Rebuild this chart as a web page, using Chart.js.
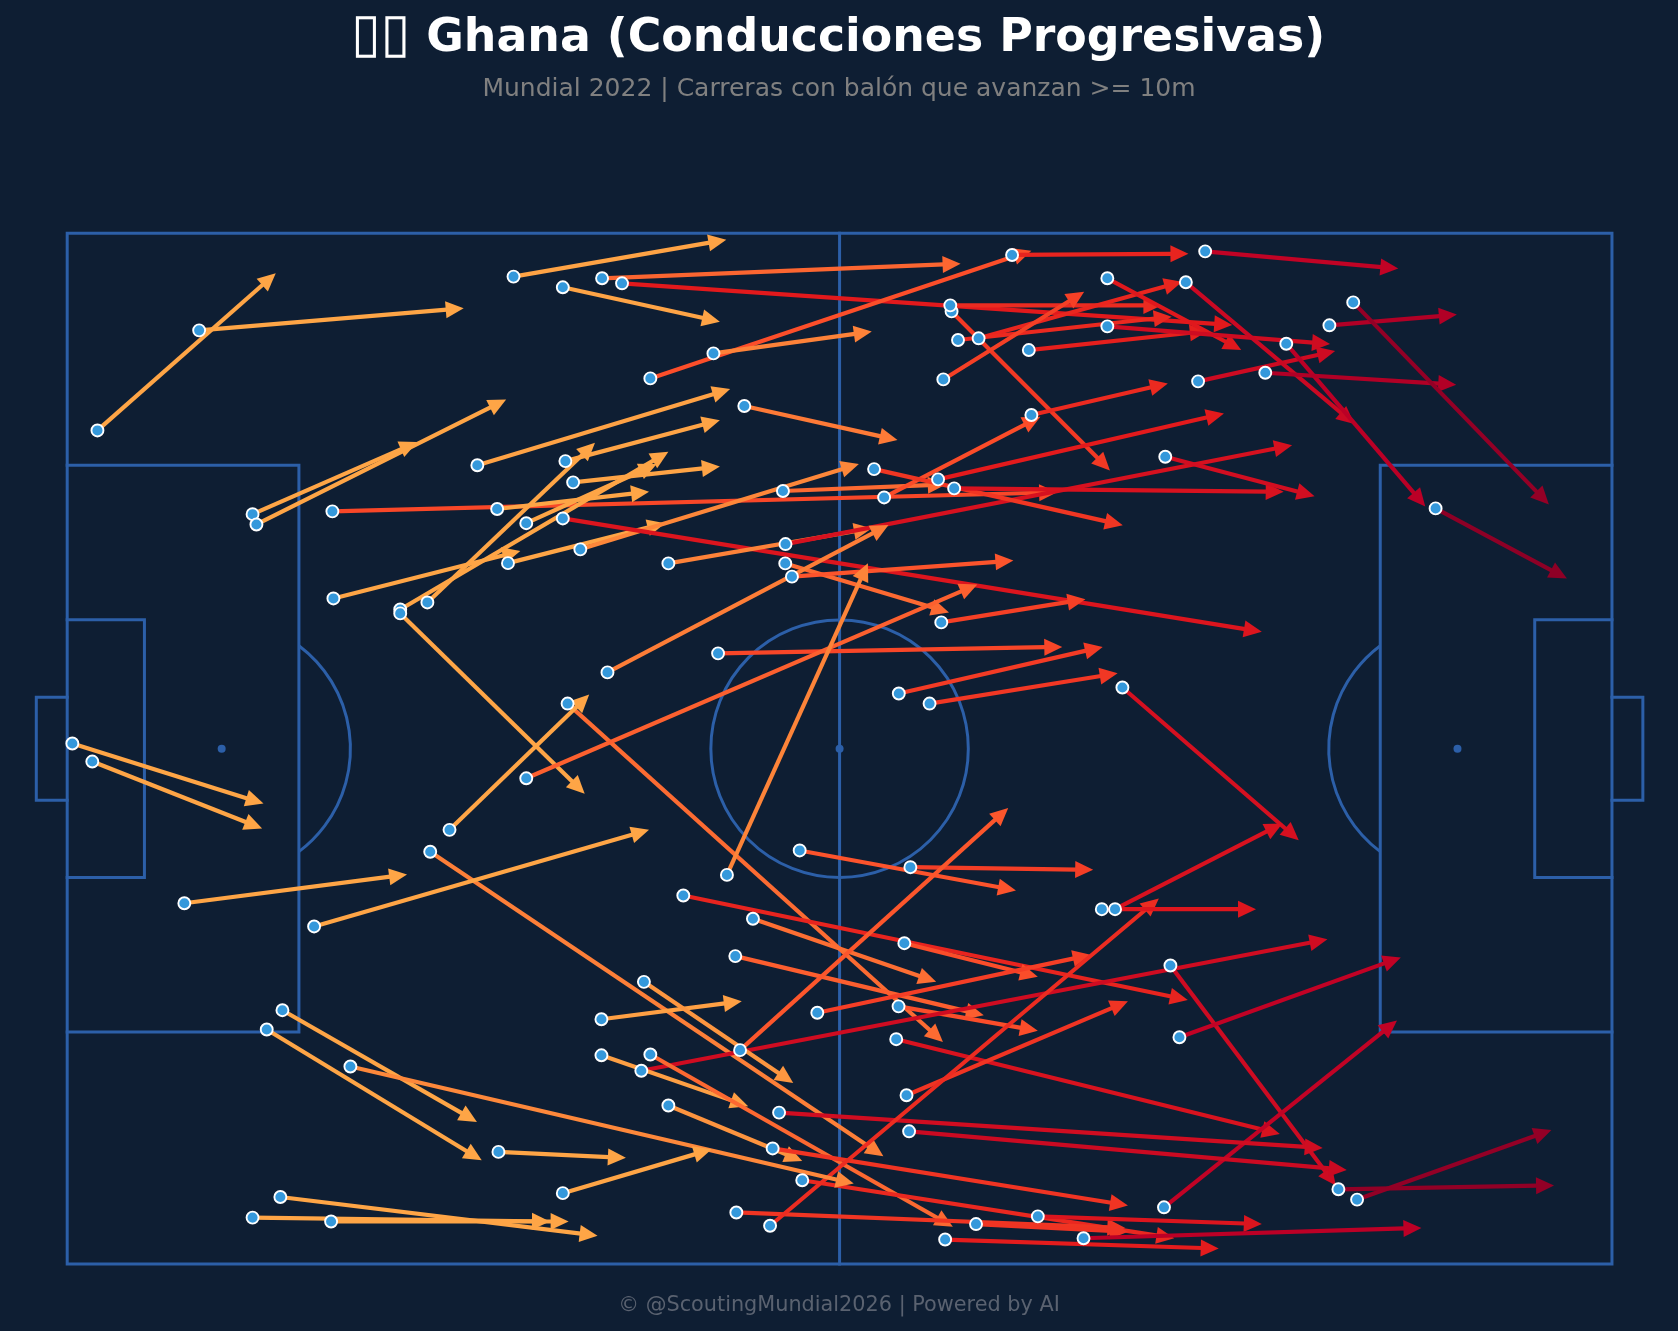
<!DOCTYPE html>
<html><head><meta charset="utf-8">
<style>
html,body{margin:0;padding:0;background:#0e1e33;width:1678px;height:1331px;overflow:hidden}
#wrap{position:relative;width:1678px;height:1331px}
canvas{position:absolute;left:0;top:0}
.t{position:absolute;left:0;width:1678px;text-align:center;font-family:"DejaVu Sans";white-space:pre}
#title{top:4px;left:-1px;font-size:45.8px;line-height:58px;font-weight:bold;color:#fff}
#title span{font-size:54px;font-weight:normal;line-height:58px}
#sub{top:72px;font-size:25px;line-height:32px;color:#808080}
#foot{top:1291px;font-size:20.8px;line-height:26px;color:#5a6270}
</style>
<script src="https://cdn.jsdelivr.net/npm/chart.js@4"></script>
</head><body>
<div id="wrap">
<canvas id="c" width="1678" height="1331"></canvas>
<div class="t" id="title"><span id="flag"></span><b id="tname"></b></div><div class="t" id="sub"></div><div class="t" id="foot"></div>
</div>
<script>
const flagText = "▯▯";
const titleText = " Ghana (Conducciones Progresivas)";
const subtitleText = "Mundial 2022 | Carreras con balón que avanzan >= 10m";
const footerText = "© @ScoutingMundial2026 | Powered by AI";

const startX = [2.35,10.25,14.4,14.7,20.6,34.67,38.5,41.55,43.1,45.3,50.2,73.4,88.4,68.7,68.6,70.8,69.2,68.06,74.7,80.8,80.8,87.85,86.9,94.7,93.07,98.05,99.9,106.3,
52.6,31.86,38.7,25.87,25.87,27.98,35.66,39.3,33.4,20.68,34.24,39.86,38.5,46.7,55.8,55.78,41.97,56.3,67.65,55.6,63.46,74.9,62.68,68.9,85.3,67.9,50.56,64.6,66.99,81.97,
38.87,35.66,29.7,51.25,28.2,19.18,9.1,0.4,1.95,56.9,65.5,47.86,53.27,51.9,65.03,58.27,64.58,64.4,65.2,85.7,44.6,86.4,85.2,98.75,100.2,41.5,44.8,52.27,41.5,45.3,46.7,55.3,65.4,54.8,57.1,51.98,75.4,70.6,68.2,78.95,54.6,80.37,81.4,
16.72,15.5,22.0,33.5,38.5,16.56,14.4,20.5];
const startY = [15.3,7.53,21.8,22.6,21.58,3.36,4.19,3.49,3.88,11.26,9.32,1.68,1.4,6.06,5.59,8.15,8.28,11.34,9.06,3.49,7.22,11.49,3.8,8.57,10.82,7.14,5.36,21.35,
13.4,18.0,17.68,29.2,29.5,28.65,22.5,19.33,21.4,28.34,25.6,24.53,22.13,25.62,24.12,25.62,34.08,26.65,19.1,20.0,20.5,14.1,18.3,19.8,17.34,30.2,32.6,35.72,36.5,35.25,
36.5,42.3,46.3,49.8,48.0,53.8,52.0,39.6,41.0,47.9,49.2,51.4,53.2,56.1,55.1,60.5,60.0,62.55,66.9,56.83,65.0,62.4,75.6,74.2,75.0,61.0,58.1,63.4,63.8,63.74,67.7,68.25,69.7,71.03,73.5,76.0,76.3,76.9,78.1,78.0,77.03,52.46,52.46,
60.3,61.8,64.67,71.3,74.5,74.8,76.4,76.7];
const endX = [16.2,30.8,27.2,34.1,76.9,51.2,50.7,69.4,90.5,74.9,62.5,87.1,103.4,81.0,85.0,86.6,85.8,79.0,88.6,91.2,98.1,98.5,100.0,105.5,107.9,107.95,115.1,116.5,
64.5,51.5,50.7,46.7,40.2,41.0,45.8,50.7,45.2,35.2,46.45,61.5,92.8,62.5,95.15,68.5,63.8,73.5,89.86,68.25,75.6,85.5,82.0,94.5,96.9,79.1,77.3,80.44,81.6,95.67,
68.03,70.7,40.55,62.2,63.4,45.2,26.4,15.25,15.14,73.7,79.7,87.05,67.5,71.2,75.4,79.5,75.4,94.2,82.4,98.55,97.9,103.6,103.3,115.5,115.3,52.4,56.4,73.1,52.9,68.8,57.1,97.53,99.4,82.4,86.0,82.2,92.8,82.4,89.45,105.2,84.8,92.35,94.4,
31.83,32.2,61.1,43.4,50.06,41.2,37.5,38.95];
const endY = [3.1,5.82,16.2,12.9,20.1,0.5,6.86,2.36,7.12,1.35,7.63,1.58,2.74,18.4,5.6,3.75,6.47,4.53,7.58,9.06,8.59,9.14,14.8,21.2,11.75,6.31,21.04,26.8,
16.05,12.09,14.5,16.95,43.5,16.25,17.9,18.1,20.05,24.66,22.5,17.9,30.93,22.9,16.45,29.43,22.64,25.4,13.98,19.5,14.23,11.65,22.65,20.06,20.4,28.4,32.1,32.1,34.15,47.1,
62.76,27.25,35.8,25.6,71.63,46.3,49.77,44.26,46.2,51.0,49.4,59.5,58.1,60.7,57.7,56.0,61.9,69.9,59.6,73.9,54.8,56.2,61.1,73.9,69.6,59.6,65.95,44.6,67.75,77.1,72.0,71.0,72.7,75.45,78.0,77.2,76.9,77.5,78.8,77.2,51.63,52.46,45.8,
68.97,71.95,73.76,71.76,71.1,77.8,76.7,76.7];

const pitchOutline = [[0,0],[120,0],[120,80],[0,80],[0,0]];
const halfwayLine = [[60,0],[60,80]];
const leftBox = [[0,18],[18,18],[18,62],[0,62]];
const rightBox = [[120,18],[102,18],[102,62],[120,62]];
const leftSix = [[0,30],[6,30],[6,50],[0,50]];
const rightSix = [[120,30],[114,30],[114,50],[120,50]];
const leftGoal = [[0,36],[-2.4,36],[-2.4,44],[0,44]];
const rightGoal = [[120,36],[122.4,36],[122.4,44],[120,44]];
const spots = [[12,40],[60,40],[108,40]];

const BG = "#0e1e33", LINE = "#2c5fa8", DOT = "#3498db";
const YLORRD = [[255,255,204],[255,237,160],[254,217,118],[254,178,76],[253,141,60],[252,78,42],[227,26,28],[189,0,38],[128,0,38]];
function endColor(x){
  const t = Math.min(1, Math.max(0.42, x/120)) * 8;
  const i = Math.min(7, Math.floor(t)), f = t - i;
  const c = YLORRD[i].map((v,k)=>Math.round(v + (YLORRD[i+1][k]-v)*f));
  return `rgb(${c[0]},${c[1]},${c[2]})`;
}

const PX_PER_UNIT = 12.875, HEAD_LEN = 18, HEAD_W = 17;
const N = startX.length;
const datasets = [];

datasets.push({ label:"inicio", order:0, data:startX.map((x,i)=>({x,y:startY[i]})),
  showLine:false, pointRadius:6, pointBorderWidth:1.9, pointBackgroundColor:DOT, pointBorderColor:"#fff" });

for(let i=0;i<N;i++){
  const dx=endX[i]-startX[i], dy=endY[i]-startY[i];
  const len=Math.hypot(dx,dy)*PX_PER_UNIT;
  datasets.push({ label:"c"+i, order:N-i+1, arrow:true, tension:0,
    data:[{x:startX[i],y:startY[i]},{x:endX[i],y:endY[i]}],
    showLine:true, pointRadius:0, borderWidth:4.2, borderColor:endColor(endX[i]),
    borderCapStyle:"butt", borderDash:[Math.max(1,len-HEAD_LEN+1),100000] });
}
[pitchOutline,halfwayLine,leftBox,rightBox,leftSix,rightSix,leftGoal,rightGoal].forEach((p,i)=>{
  datasets.push({ label:"p"+i, order:N+10, data:p.map(q=>({x:q[0],y:q[1]})),
    showLine:true, pointRadius:0, borderWidth:3, borderColor:LINE, borderJoinStyle:"miter", borderCapStyle:"square" });
});
datasets.push({ label:"spots", order:N+10, data:spots.map(q=>({x:q[0],y:q[1]})), showLine:false,
  pointRadius:4, pointBorderWidth:0, pointBackgroundColor:LINE });

const arcsPlugin = {
  id:"arcs",
  beforeDatasetsDraw(chart){
    const {ctx,scales:{x,y}} = chart;
    const px = x.getPixelForValue(10)-x.getPixelForValue(0);
    const a = Math.acos(0.6);
    const arcs = [[60,40,0,Math.PI*2],[12,40,-a,a],[108,40,Math.PI-a,Math.PI+a]];
    ctx.save(); ctx.strokeStyle=LINE; ctx.lineWidth=3;
    arcs.forEach(r=>{ ctx.beginPath(); ctx.arc(x.getPixelForValue(r[0]),y.getPixelForValue(r[1]),px,r[2],r[3]); ctx.stroke(); });
    ctx.restore();
  }
};
const headPlugin = {
  id:"heads",
  afterDatasetDraw(chart,args){
    const ds = chart.data.datasets[args.index];
    if(!ds.arrow) return;
    const {ctx,scales:{x,y}} = chart;
    const x0=x.getPixelForValue(ds.data[0].x), y0=y.getPixelForValue(ds.data[0].y);
    const x1=x.getPixelForValue(ds.data[1].x), y1=y.getPixelForValue(ds.data[1].y);
    const a=Math.atan2(y1-y0,x1-x0), c=Math.cos(a), s=Math.sin(a);
    const bx=x1-c*HEAD_LEN, by=y1-s*HEAD_LEN, w=HEAD_W/2;
    ctx.save(); ctx.fillStyle=ds.borderColor; ctx.beginPath();
    ctx.moveTo(x1,y1); ctx.lineTo(bx-s*w,by+c*w); ctx.lineTo(bx+s*w,by-c*w); ctx.closePath(); ctx.fill();
    ctx.restore();
  }
};

document.getElementById("flag").textContent = flagText;
document.getElementById("tname").textContent = titleText;
document.getElementById("sub").textContent = subtitleText;
document.getElementById("foot").textContent = footerText;

new Chart(document.getElementById("c"),{
  type:"scatter",
  data:{datasets},
  plugins:[arcsPlugin,headPlugin],
  options:{
    responsive:false, animation:false, events:[], clip:false,
    layout:{padding:0,autoPadding:false},
    plugins:{legend:{display:false},tooltip:{enabled:false},title:{display:false}},
    scales:{
      x:{type:"linear",display:false,min:-5.22,max:125.13},
      y:{type:"linear",display:false,reverse:true,min:-18.11,max:85.2}
    }
  }
});
</script>
</body></html>
